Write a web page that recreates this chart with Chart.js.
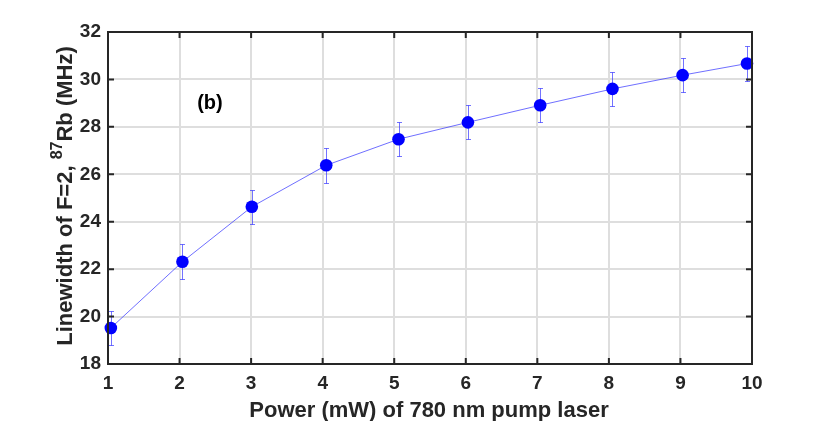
<!DOCTYPE html>
<html>
<head>
<meta charset="utf-8">
<script src="https://cdn.jsdelivr.net/npm/chart.js@4.4.0/dist/chart.umd.min.js"></script>
<style>
html,body{margin:0;padding:0;background:#fff;}
#wrap{width:830px;height:421px;}
</style>
</head>
<body>
<div id="wrap"><canvas id="c" width="830" height="421"></canvas></div>
<script>
// ---- data ----
const powers = [1.04, 2.04, 3.01, 4.05, 5.06, 6.03, 7.04, 8.05, 9.03, 9.93];
const linewidths = [19.52, 22.31, 24.63, 26.38, 27.48, 28.19, 28.91, 29.60, 30.18, 30.67];
const errors = [0.72, 0.74, 0.72, 0.73, 0.72, 0.72, 0.72, 0.72, 0.72, 0.72];
const xTicks = [1, 2, 3, 4, 5, 6, 7, 8, 9, 10];
const yTicks = [18, 20, 22, 24, 26, 28, 30, 32];
const xTitle = "Power (mW) of 780 nm pump laser";
const yTitleParts = ["Linewidth of F=2, ", "87", "Rb (MHz)"];
const panelLabel = "(b)";
const panelLabelPos = [2.425, 29.0];

const FONT = "'Liberation Sans', Arial, Helvetica, sans-serif";
const AXCOL = '#262626';

const points = powers.map((p, i) => ({x: p, y: linewidths[i]}));

const errorBars = {
  id: 'errorBars',
  beforeDatasetsDraw(chart) {
    const ctx = chart.ctx, xs = chart.scales.x, ys = chart.scales.y;
    ctx.save();
    ctx.strokeStyle = 'rgba(40,40,255,0.65)';
    ctx.lineWidth = 1;
    powers.forEach((p, i) => {
      const px = Math.round(xs.getPixelForValue(p)) + 0.5;
      const top = Math.round(ys.getPixelForValue(linewidths[i] + errors[i])) + 0.5;
      const bot = Math.round(ys.getPixelForValue(linewidths[i] - errors[i])) + 0.5;
      ctx.beginPath();
      ctx.moveTo(px, top); ctx.lineTo(px, bot);
      ctx.moveTo(px - 2.5, top); ctx.lineTo(px + 2.5, top);
      ctx.moveTo(px - 2.5, bot); ctx.lineTo(px + 2.5, bot);
      ctx.stroke();
    });
    ctx.restore();
  }
};

const boxAndText = {
  id: 'boxAndText',
  afterDraw(chart) {
    const ctx = chart.ctx, xs = chart.scales.x, ys = chart.scales.y;
    const a = chart.chartArea;
    ctx.save();
    // box
    ctx.strokeStyle = AXCOL;
    ctx.lineWidth = 2;
    ctx.strokeRect(a.left, a.top, a.right - a.left, a.bottom - a.top);
    // inward ticks
    const tl = 6;
    ctx.beginPath();
    xTicks.forEach(v => {
      const px = xs.getPixelForValue(v);
      ctx.moveTo(px, a.bottom); ctx.lineTo(px, a.bottom - tl);
      ctx.moveTo(px, a.top); ctx.lineTo(px, a.top + tl);
    });
    yTicks.forEach(v => {
      const py = ys.getPixelForValue(v);
      ctx.moveTo(a.left, py); ctx.lineTo(a.left + tl, py);
      ctx.moveTo(a.right, py); ctx.lineTo(a.right - tl, py);
    });
    ctx.stroke();

    // x title
    ctx.fillStyle = AXCOL;
    ctx.font = "bold 22px " + FONT;
    ctx.textAlign = 'center';
    ctx.textBaseline = 'alphabetic';
    ctx.fillText(xTitle, (a.left + a.right) / 2 - 1, 416.5);

    // y title with superscript
    const mainFont = "bold 22px " + FONT;
    const supFont = "bold 16px " + FONT;
    ctx.font = mainFont;
    const w1 = ctx.measureText(yTitleParts[0]).width;
    const w3 = ctx.measureText(yTitleParts[2]).width;
    ctx.font = supFont;
    const w2 = ctx.measureText(yTitleParts[1]).width;
    const total = w1 + w2 + w3;
    ctx.translate(72, (a.top + a.bottom) / 2 - 2);
    ctx.rotate(-Math.PI / 2);
    ctx.textAlign = 'left';
    let x0 = -total / 2;
    ctx.font = mainFont;
    ctx.fillText(yTitleParts[0], x0, 0);
    x0 += w1;
    ctx.font = supFont;
    ctx.fillText(yTitleParts[1], x0, -10);
    x0 += w2;
    ctx.font = mainFont;
    ctx.fillText(yTitleParts[2], x0, 0);
    ctx.setTransform(1, 0, 0, 1, 0, 0);
    ctx.restore();

    // panel label
    ctx.save();
    ctx.fillStyle = '#000';
    ctx.font = "bold 20px " + FONT;
    ctx.textAlign = 'center';
    ctx.textBaseline = 'middle';
    ctx.fillText(panelLabel, xs.getPixelForValue(panelLabelPos[0]), ys.getPixelForValue(panelLabelPos[1]));
    ctx.restore();
  }
};

new Chart(document.getElementById('c'), {
  type: 'scatter',
  data: {
    datasets: [{
      data: points,
      showLine: true,
      borderColor: 'rgba(50,50,255,0.7)',
      borderWidth: 1,
      pointRadius: 6.3,
      pointHoverRadius: 6.3,
      pointBackgroundColor: '#0000ff',
      pointBorderColor: '#0000ff',
      pointBorderWidth: 0,
      clip: false
    }]
  },
  options: {
    responsive: false,
    animation: false,
    devicePixelRatio: 1,
    layout: {padding: {top: 32, right: 78, left: 0, bottom: 0}},
    plugins: {legend: {display: false}, tooltip: {enabled: false}},
    scales: {
      x: {
        type: 'linear', min: 1, max: 10,
        afterFit(s) { s.height = 57; },
        afterBuildTicks(s) { s.ticks = xTicks.map(v => ({value: v})); },
        grid: {color: '#dedede', lineWidth: 2, drawTicks: false},
        border: {display: false},
        ticks: {color: AXCOL, padding: 8, font: {family: FONT, size: 19, weight: 'bold'}, maxRotation: 0}
      },
      y: {
        type: 'linear', min: 18, max: 32,
        afterFit(s) { s.width = 108; },
        afterBuildTicks(s) { s.ticks = yTicks.map(v => ({value: v})); },
        grid: {color: '#dedede', lineWidth: 2, drawTicks: false},
        border: {display: false},
        ticks: {color: AXCOL, padding: 7, font: {family: FONT, size: 19, weight: 'bold'}}
      }
    }
  },
  plugins: [errorBars, boxAndText]
});
</script>
</body>
</html>
